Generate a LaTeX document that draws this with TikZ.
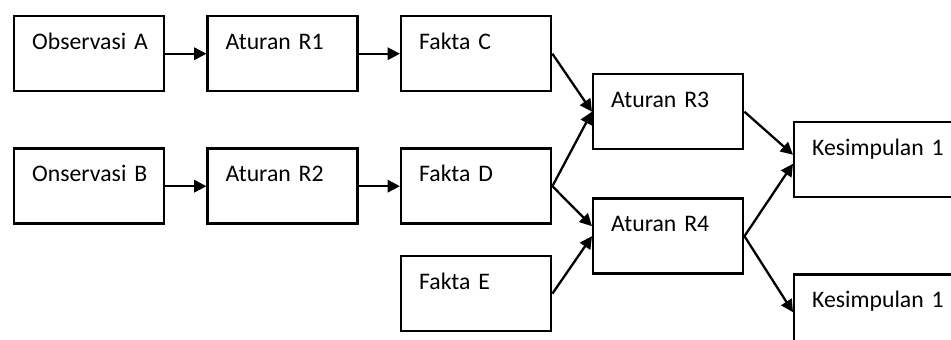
\documentclass[tikz,border=0pt]{standalone}
\usepackage{fontspec}
\setmainfont{Carlito}
\usetikzlibrary{positioning,arrows.meta}
\newcommand{\boxfont}{\fontsize{13.5}{16}\selectfont\spaceskip=0.17em\relax}

\begin{document}
\begin{tikzpicture}[node distance=0.82cm,
  box/.style={draw, line width=1.4pt, inner xsep=0.36cm, inner ysep=0pt,
    text width=2.28cm, text height=0.66cm, text depth=0.84cm, align=left,
    font=\boxfont},
  flow/.style={-{Triangle[length=7pt,width=7pt]}, line width=1.3pt}]
\clip (0,0) rectangle (19.02,-6.78);
% first column pair
\node[box, anchor=north west] (obsA) at (0.26,-0.30) {\mbox{Observasi A}};
\node[box, right=of obsA] (ruleR1) {Aturan R1};
\node[box, right=of ruleR1] (factC) {Fakta C};
\node[box, below=1.1cm of obsA] (obsB) {\mbox{Onservasi B}};
\node[box, right=of obsB] (ruleR2) {Aturan R2};
\node[box, right=of ruleR2] (factD) {Fakta D};
\node[box, below=0.6cm of factD] (factE) {Fakta E};
% rules and conclusions
\node[box, anchor=north west] (ruleR3) at (11.84,-1.46) {Aturan R3};
\node[box, below=0.94cm of ruleR3] (ruleR4) {Aturan R4};
\node[box, anchor=north west, text width=3.6cm] (concl1) at (15.86,-2.42) {Kesimpulan 1};
\node[box, below=1.5cm of concl1, text width=3.6cm] (concl2) {Kesimpulan 1};

\draw[flow] (obsA) -- (ruleR1);
\draw[flow] (ruleR1) -- (factC);
\draw[flow] (obsB) -- (ruleR2);
\draw[flow] (ruleR2) -- (factD);
\draw[flow] (factC.east) -- (ruleR3.west);
\draw[flow] (factD.east) -- (ruleR3.west);
\draw[flow] (factD.east) -- ([yshift=0.2cm]ruleR4.west);
\draw[flow] (factE.east) -- (ruleR4.west);
\draw[flow] (ruleR3.east) -- ([yshift=0.1cm]concl1.west);
\draw[flow] (ruleR4.east) -- ([yshift=-0.08cm]concl1.west);
\draw[flow] (ruleR4.east) -- (concl2.west);
\end{tikzpicture}
\end{document}
